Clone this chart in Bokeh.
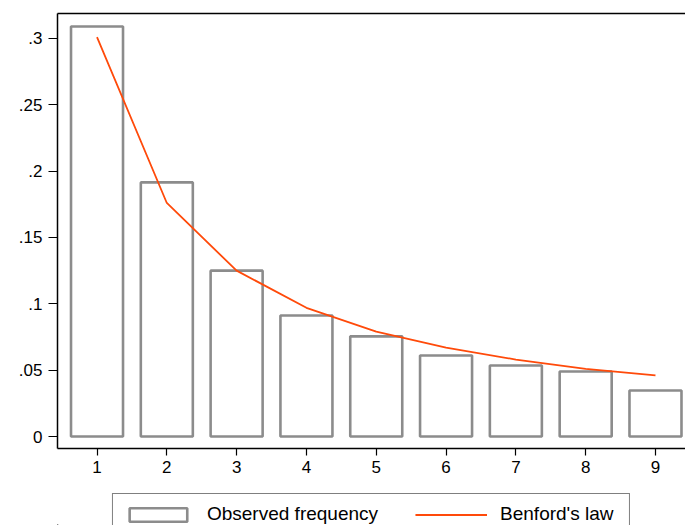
from bokeh.plotting import figure
from bokeh.layouts import column
from bokeh.models import (Range1d, FixedTicker, LinearAxis, Legend, LegendItem,
                          ColumnDataSource, CustomJSTickFormatter)
from bokeh.embed import file_html
from bokeh.resources import INLINE

# ---- data ----
digits = [1, 2, 3, 4, 5, 6, 7, 8, 9]
observed = [0.309, 0.1915, 0.125, 0.0912, 0.0755, 0.061, 0.0535, 0.049, 0.0347]
benford = [0.301, 0.176, 0.125, 0.097, 0.079, 0.067, 0.058, 0.051, 0.046]
y_ticks = [0, 0.05, 0.1, 0.15, 0.2, 0.25, 0.3]
y_tick_labels = ["0", ".05", ".1", ".15", ".2", ".25", ".3"]
x_ticks = [1, 2, 3, 4, 5, 6, 7, 8, 9]
x_tick_labels = ["1", "2", "3", "4", "5", "6", "7", "8", "9"]
legend_labels = ["Observed frequency", "Benford's law"]

FONT = "Liberation Sans"
BAR_GRAY = "#8c8c8c"
ORANGE = "#ff4a0a"
BAR_STYLE = dict(fill_color="white", line_color=BAR_GRAY, line_width=2.6)
LINE_STYLE = dict(line_color=ORANGE, line_width=1.8)

LABEL_JS = """
const i = tick_vals.findIndex(t => Math.abs(t - tick) < 1e-9);
return i >= 0 ? tick_labs[i] : '';
"""

# ---- main plot ----
p = figure(width=685, height=482, output_backend="svg", toolbar_location=None,
           x_range=Range1d(0.434, 9.43), y_range=Range1d(-0.00904, 0.3188),
           min_border_left=49, min_border_top=13, min_border_right=0,
           min_border_bottom=34)
p.outline_line_color = None
p.xgrid.visible = False
p.ygrid.visible = False
p.background_fill_color = "white"
p.border_fill_color = "white"

src = ColumnDataSource(dict(x=digits, obs=observed, ben=benford))
p.vbar(x="x", top="obs", bottom=0, width=0.745, source=src, **BAR_STYLE)
p.line(x="x", y="ben", source=src, **LINE_STYLE)

xa = p.xaxis[0]
xa.ticker = FixedTicker(ticks=x_ticks)
xa.formatter = CustomJSTickFormatter(args=dict(tick_vals=x_ticks, tick_labs=x_tick_labels),
                                     code=LABEL_JS)
xa.minor_tick_line_color = None
xa.major_tick_out = 7
xa.major_tick_in = 0
xa.major_label_standoff = 5
xa.axis_line_width = 1.5
xa.major_tick_line_width = 1.2
xa.major_label_text_font = FONT
xa.major_label_text_font_size = "17px"
xa.major_label_text_color = "black"

ya = p.yaxis[0]
ya.ticker = FixedTicker(ticks=y_ticks)
ya.formatter = CustomJSTickFormatter(args=dict(tick_vals=y_ticks, tick_labs=y_tick_labels),
                                     code=LABEL_JS)
ya.minor_tick_line_color = None
ya.major_tick_out = 9
ya.major_tick_in = 0
ya.major_label_standoff = 6
ya.axis_line_width = 1.5
ya.major_tick_line_width = 1.2
ya.major_label_text_font = FONT
ya.major_label_text_font_size = "17px"
ya.major_label_text_color = "black"

top_axis = LinearAxis(ticker=FixedTicker(ticks=[]), major_label_text_font_size="0px",
                      axis_line_width=1.5, major_tick_line_color=None,
                      minor_tick_line_color=None, major_tick_out=0, major_tick_in=0,
                      major_label_standoff=0)
p.add_layout(top_axis, "above")

# ---- legend strip (its glyphs share the data but sit outside the visible range) ----
lg = figure(width=685, height=43, output_backend="svg", toolbar_location=None,
            x_range=Range1d(100, 101), y_range=Range1d(100, 101),
            min_border_left=57, min_border_right=0, min_border_top=0, min_border_bottom=0)
lg.axis.visible = False
lg.xgrid.visible = False
lg.ygrid.visible = False
lg.outline_line_color = None
lg.border_fill_color = "white"
r_bar = lg.vbar(x="x", top="obs", bottom=0, width=0.745, source=src, **BAR_STYLE)
r_line = lg.line(x="x", y="ben", source=src, **LINE_STYLE)

legend = Legend(items=[LegendItem(label=legend_labels[0], renderers=[r_bar], index=0),
                       LegendItem(label=legend_labels[1], renderers=[r_line], index=0)],
                orientation="horizontal", location="top_center",
                glyph_width=72, glyph_height=17,
                label_standoff=13, spacing=37, padding=9, label_width=120,
                label_text_font=FONT, label_text_font_size="19px",
                label_text_color="black",
                border_line_color="black", border_line_width=1,
                background_fill_color="white", margin=11)
lg.add_layout(legend, "center")

layout = column(p, lg, spacing=0)
open("out.html", "w").write(file_html(layout, INLINE))
